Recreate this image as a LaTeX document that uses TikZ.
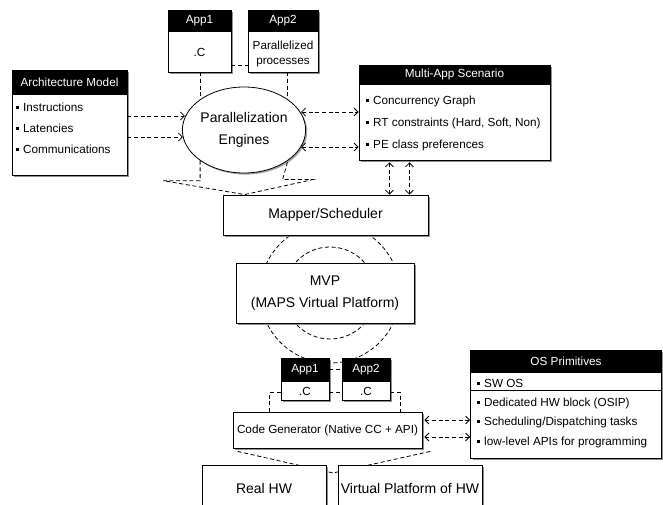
\documentclass[tikz,border=0pt]{standalone}
\usepackage{fontspec}
\setmainfont{Liberation Sans}
\usepackage{tikz}
\usetikzlibrary{positioning, calc, arrows.meta, shapes.geometric, shadows, backgrounds}
\newcommand{\blt}{\rule[0.35ex]{2.2pt}{2.2pt}\hspace{3pt}}

\begin{document}
\begin{tikzpicture}[
  x=0.75pt, y=-0.75pt,
  every node/.style={font=\fontsize{8.8}{10.5}\selectfont},
  frame/.style={draw, line width=0.6pt, fill=white, inner sep=0pt,
                drop shadow={shadow xshift=1.5pt, shadow yshift=-1.5pt,
                             fill=black!55, opacity=0.8}},
  hdr/.style={draw, line width=0.6pt, fill=black, text=white,
              inner sep=0pt, anchor=north},
  itm/.style={anchor=west, inner sep=0pt},
  big/.style={font=\fontsize{10.5}{16.5}\selectfont},
  dashln/.style={line width=0.6pt, dash pattern=on 3pt off 2pt},
  arr/.style={dashln, -{Straight Barb[length=3pt, width=6pt]}},
  darr/.style={dashln, {Straight Barb[length=3pt, width=6pt]}-{Straight Barb[length=3pt, width=6pt]}},
]
  \useasboundingbox (0,0) rectangle (663,505);

  % Applications fed to the parallelization engines
  \node[frame, minimum width=47.25pt, minimum height=46.5pt] (papp1) at (199.5,41) {};
  \node[hdr, minimum width=47.25pt, minimum height=15.75pt] (papp1hd) at (papp1.north) {App1};
  \node (papp1c) at (199.5,52) {.C};
  \node[frame, minimum width=52.5pt, minimum height=46.5pt] (papp2) at (283,41) {};
  \node[hdr, minimum width=52.5pt, minimum height=15.75pt] (papp2hd) at (papp2.north) {App2};
  \node (papp2a) at (283,45) {Parallelized};
  \node (papp2b) at (283,63) {processes};

  % Architecture model
  \node[frame, minimum width=86.25pt, minimum height=78.75pt] (arch) at (69.5,122.5) {};
  \node[hdr, minimum width=86.25pt, minimum height=18pt] (archhd) at (arch.north) {Architecture Model};
  \foreach \yy/\txt [count=\k] in {107/Instructions, 128/Latencies, 149/Communications}
    \node[itm] (arch\k) at (16,\yy) {\blt\txt};

  % Multi-app scenario
  \node[frame, minimum width=143.25pt, minimum height=71.25pt] (multi) at (454.5,112.5) {};
  \node[hdr, minimum width=143.25pt, minimum height=14.25pt] (multihd) at (multi.north) {Multi-App Scenario};
  \foreach \yy/\txt [count=\k] in {101/Concurrency Graph, 123/{RT constraints (Hard, Soft, Non)},
                                   145/PE class preferences}
    \node[itm] (multi\k) at (366,\yy) {\blt\txt};

  % Engines, mapper and platform
  \node[ellipse, draw, line width=0.6pt, fill=white, minimum width=84pt, minimum height=64.5pt,
        inner sep=0pt, big, align=center,
        drop shadow={shadow xshift=1.2pt, shadow yshift=-1.2pt, fill=black!50, opacity=0.7}]
    (engines) at (244,130) {Parallelization\\Engines};
  \node[frame, big, minimum width=153.75pt, minimum height=30pt] (mapper) at (325.5,215) {Mapper/Scheduler};
  \node[frame, big, align=center, minimum width=133.5pt, minimum height=45pt] (mvp) at (325,293)
    {MVP\\(MAPS Virtual Platform)};

  % Applications fed to the code generator
  \node[frame, minimum width=36pt, minimum height=31.5pt] (capp1) at (305,379) {};
  \node[hdr, minimum width=36pt, minimum height=17.25pt] (capp1hd) at (capp1.north) {App1};
  \node (capp1c) at (305,391) {.C};
  \node[frame, minimum width=36pt, minimum height=31.5pt] (capp2) at (366,379) {};
  \node[hdr, minimum width=36pt, minimum height=17.25pt] (capp2hd) at (capp2.north) {App2};
  \node (capp2c) at (366,391) {.C};

  \node[frame, minimum width=141.75pt, minimum height=27pt] (codegen) at (327.5,430)
    {Code Generator (Native CC + API)};

  % OS primitives
  \node[frame, minimum width=143.25pt, minimum height=81pt] (os) at (566,404) {};
  \node[hdr, minimum width=143.25pt, minimum height=16.5pt] (oshd) at (os.north) {OS Primitives};
  \foreach \yy/\txt [count=\k] in {383/SW OS, 403/Dedicated HW block (OSIP),
                                   422/{Scheduling/Dispatching tasks}, 442/low-level APIs for programming}
    \node[itm] (os\k) at (477,\yy) {\blt\txt};
  \draw[line width=0.6pt] ([yshift=-13.5pt]oshd.south west) -- ([yshift=-13.5pt]oshd.south east);

  % Hardware targets
  \node[frame, big, minimum width=93pt, minimum height=34.5pt] (realhw) at (264,488) {Real HW};
  \node[frame, big, minimum width=108pt, minimum height=34.5pt] (virthw) at (410,488) {Virtual Platform of HW};

  % Connectors
  \draw[dashln] ([yshift=5.25pt]papp1.south east) -- ([yshift=5.25pt]papp2.south west);
  \draw[dashln] (engines.north west |- papp1.south) -- (engines.north west);
  \draw[dashln] (engines.north east |- papp2.south) -- (engines.north east);

  \draw[arr] ($(engines.west -| arch.east)+(0,-14)$) -- ($(engines.west)+(3,-14)$);
  \draw[arr] ($(engines.west -| arch.east)+(0,7)$) -- ($(engines.west)+(1,7)$);

  \draw[darr] ($(engines.east)+(-5,-18)$) -- ($(engines.east -| multi.west)+(0,-18)$);
  \draw[darr] ($(engines.east)+(-5,17)$) -- ($(engines.east -| multi.west)+(0,17)$);

  \draw[darr] ($(mapper.north east)+(-39,0)$) -- ($(mapper.north east |- multi.south)+(-39,2)$);
  \draw[darr] ($(mapper.north east)+(-19,0)$) -- ($(mapper.north east |- multi.south)+(-19,2)$);

  \draw[dashln] (engines.south west) -- ++(0,20) -- ++(-37,0)
    -- ([xshift=16.5pt]mapper.north west) -- ++(68,-15) -- ++(-30,0) -- (engines.south east);

  \draw[dashln] (capp1hd.east) -- (capp2hd.west);
  \draw[dashln] ($(capp1.south east)+(0,-8)$) -- ($(capp2.south west)+(0,-8)$);
  \draw[dashln] ($(capp1.south west)+(0,-8)$) -| ($(codegen.north west)+(37,0)$);
  \draw[dashln] ($(capp2.south east)+(0,-8)$) -| ($(codegen.north east)+(-22,0)$);

  \draw[darr] ($(codegen.east)+(2,-10)$) -- ($(codegen.east -| os.west)+(0,-10)$);
  \draw[darr] ($(codegen.east)+(2,7)$) -- ($(codegen.east -| os.west)+(0,7)$);

  \begin{scope}[on background layer]
    \fill[white] (0,0) rectangle (663,505);
    % MVP cycle
    \draw[dashln] ([xshift=3.75pt]mvp.center) circle[radius=52.5pt];
    \draw[dashln] ([xshift=3.75pt]mvp.center) circle[radius=34.5pt];
    % funnel towards the hardware
    \coordinate (hwtip) at (333,473);
    \draw[dashln] ($(codegen.south west)+(5,3)$) -- (hwtip) -- ($(codegen.south east)+(8,3)$);
  \end{scope}
\end{tikzpicture}
\end{document}
